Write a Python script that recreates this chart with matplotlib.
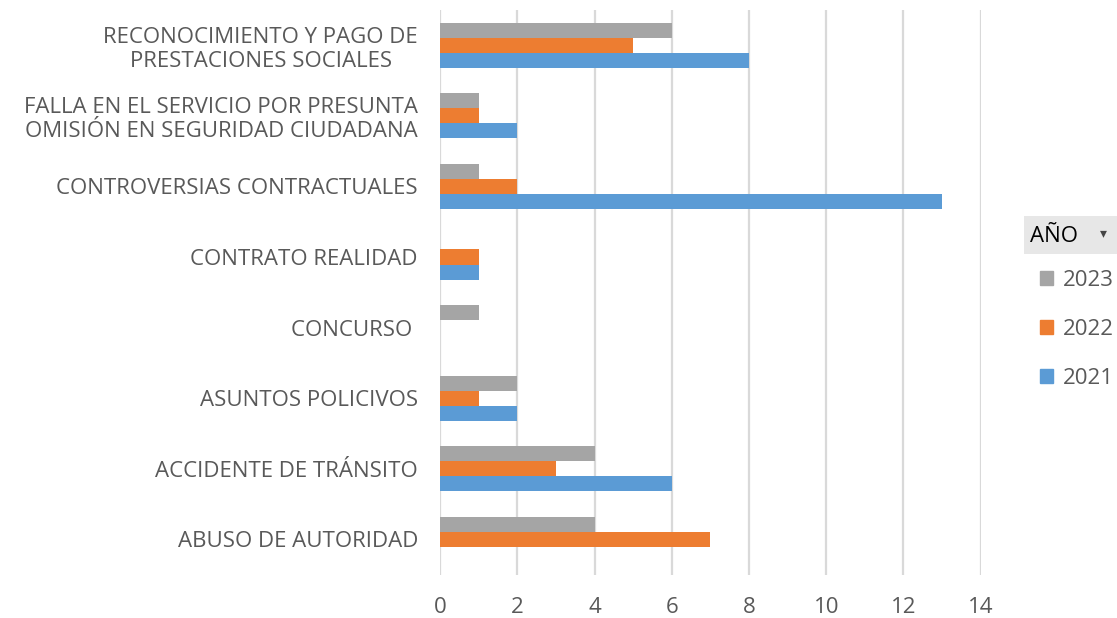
import numpy as np
import matplotlib.pyplot as plt
from matplotlib.patches import Rectangle, Patch

plt.rcParams['font.family'] = ['Open Sans', 'DejaVu Sans']

# categories listed bottom to top
categories = [
    "ABUSO DE AUTORIDAD",
    "ACCIDENTE DE TRÁNSITO",
    "ASUNTOS POLICIVOS",
    "CONCURSO ",
    "CONTRATO REALIDAD",
    "CONTROVERSIAS CONTRACTUALES",
    "FALLA EN EL SERVICIO POR PRESUNTA\nOMISIÓN EN SEGURIDAD CIUDADANA",
    "RECONOCIMIENTO Y PAGO DE\nPRESTACIONES SOCIALES",
]
v2021 = [0, 6, 2, 0, 1, 13, 2, 8]
v2022 = [7, 3, 1, 0, 1, 2, 1, 5]
v2023 = [4, 4, 2, 1, 0, 1, 1, 6]
xticks = [0, 2, 4, 6, 8, 10, 12, 14]

c2021 = '#5B9BD5'
c2022 = '#ED7D31'
c2023 = '#A5A5A5'
txt = '#595959'

fig = plt.figure(figsize=(11.17, 6.18), dpi=100)
ax = fig.add_axes([0.394, 0.070, 0.484, 0.914])

y = np.arange(len(categories))
h = 0.213
ax.barh(y - h, v2021, height=h, color=c2021, linewidth=0)
ax.barh(y, v2022, height=h, color=c2022, linewidth=0)
ax.barh(y + h, v2023, height=h, color=c2023, linewidth=0)

ax.set_xlim(0, 14)
ax.set_ylim(-0.5, len(categories) - 0.5)
ax.set_xticks(xticks)
ax.set_xticklabels([str(t) for t in xticks])
ax.set_yticks(y)
ax.set_yticklabels(categories, multialignment='center')
ax.tick_params(axis='both', length=0, labelsize=16, colors=txt)
ax.tick_params(axis='y', pad=16)
ax.tick_params(axis='x', pad=16)
ax.grid(axis='x', color='#D9D9D9', linewidth=1.6)
ax.set_axisbelow(True)
for s in ax.spines.values():
    s.set_visible(False)

# legend header (pivot-style field button)
fig.add_artist(Rectangle((1024 / 1117, 1 - 254 / 618), 93 / 1117, 38 / 618,
                         transform=fig.transFigure, facecolor='#E7E7E7',
                         edgecolor='none'))
fig.text(1030 / 1117, 1 - 236 / 618, "AÑO", fontsize=16, color='black',
         va='center', ha='left')
fig.text(1103 / 1117, 1 - 234 / 618, "▾", fontsize=10, color='#444444',
         va='center', ha='center')

handles = [Patch(color=c2023, label='2023'),
           Patch(color=c2022, label='2022'),
           Patch(color=c2021, label='2021')]
fig.legend(handles=handles, loc='upper left',
           bbox_to_anchor=(1020 / 1117, 1 - 250 / 618), frameon=False,
           fontsize=16, labelcolor=txt, handlelength=0.6, handleheight=0.6,
           handletextpad=0.45, labelspacing=1.25)

plt.savefig("out.png", dpi=100)
